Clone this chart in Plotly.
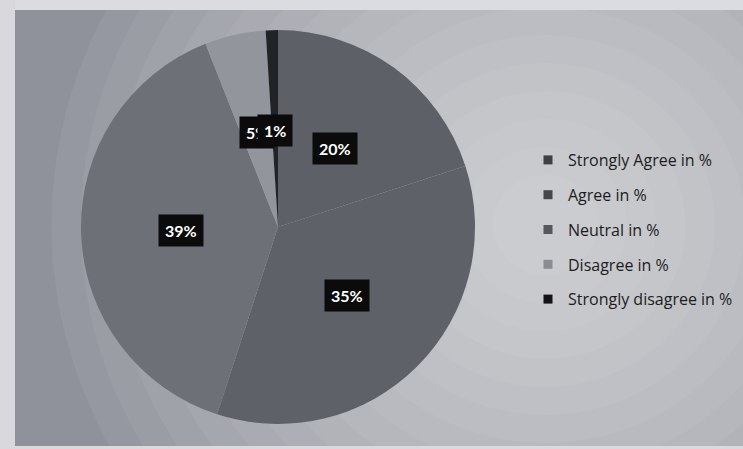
import math
import plotly.graph_objects as go

# ---- data ----
categories = ["Strongly Agree in %", "Agree in %", "Neutral in %", "Disagree in %", "Strongly disagree in %"]
values = [20, 35, 39, 5, 1]
label_texts = ["20%", "35%", "39%", "5%", "1%"]
slice_colors = ["#5e6068", "#5f6169", "#6e7078", "#93959c", "#222327"]
legend_colors = ["#3f4045", "#45464b", "#55575c", "#8a8c92", "#141416"]

W, H = 743, 449
px0, px1 = 80, 476
py0, py1 = 30, 424

fig = go.Figure()

fig.add_trace(go.Pie(
    labels=categories, values=values, sort=False, direction="clockwise", rotation=0,
    marker=dict(colors=slice_colors, line=dict(width=0)),
    textinfo="none", hoverinfo="label+percent", showlegend=False,
    domain=dict(x=[px0 / W, px1 / W], y=[1 - py1 / H, 1 - py0 / H]),
))

# legend entries (one group each so spacing can be controlled)
for cat, col in zip(categories, legend_colors):
    fig.add_trace(go.Scatter(
        x=[None], y=[None], mode="markers", name=cat, legendgroup=cat,
        marker=dict(symbol="square", size=9, color=col),
    ))

# labels on black boxes, placed on slice bisectors at half radius
cx = (px0 + px1) / 2
cy = (py0 + py1) / 2
R = (px1 - px0) / 2
total = sum(values)
cum = 0
annotations = []
for v, t in zip(values, label_texts):
    mid = (cum + v / 2) / total * 2 * math.pi
    cum += v
    x = cx + 0.49 * R * math.sin(mid)
    y = cy - 0.49 * R * math.cos(mid)
    annotations.append(dict(
        x=x / W, y=1 - y / H, xref="paper", yref="paper", showarrow=False,
        xanchor="center", yanchor="middle",
        text="<b>" + t + "</b>", font=dict(family="Lato", size=16, color="white"),
        bgcolor="#0b0b0c", borderpad=6,
    ))

# photographed backdrop: base sheet plus a soft lighter glow right of the pie
shapes = [dict(type="rect", xref="paper", yref="paper", x0=15 / W, x1=1, y0=3 / H, y1=1 - 10 / H,
               fillcolor="#8f929b", line=dict(width=0), layer="below")]
gx, gy = 545, 225
for i in range(16):
    r = 470 - i * 28
    shapes.append(dict(type="circle", xref="paper", yref="paper",
                       x0=(gx - r * 1.05) / W, x1=(gx + r * 1.05) / W,
                       y0=1 - (gy + r) / H, y1=1 - (gy - r) / H,
                       fillcolor="#f3f2f6", opacity=0.065, line=dict(width=0), layer="below"))
shapes.append(dict(type="rect", xref="paper", yref="paper", x0=15 / W, x1=1.2, y0=-0.2, y1=3 / H,
                   fillcolor="#d9d9de", line=dict(width=0), layer="below"))
shapes.append(dict(type="rect", xref="paper", yref="paper", x0=15 / W, x1=1.2, y0=1 - 10 / H, y1=1.2,
                   fillcolor="#dcdce0", line=dict(width=0), layer="below"))
shapes.append(dict(type="rect", xref="paper", yref="paper", x0=-0.2, x1=15 / W, y0=-0.2, y1=1.2,
                   fillcolor="#d8d8dd", line=dict(width=0), layer="below"))

fig.update_layout(
    width=W, height=H, margin=dict(l=0, r=0, t=0, b=0),
    paper_bgcolor="#d8d8dd", plot_bgcolor="rgba(0,0,0,0)",
    xaxis=dict(visible=False), yaxis=dict(visible=False),
    annotations=annotations, shapes=shapes,
    legend=dict(x=528 / W, y=1 - 143 / H, xanchor="left", yanchor="top",
                bgcolor="rgba(0,0,0,0)", tracegroupgap=11, itemclick=False,
                font=dict(family="Open Sans", size=16, color="#1c1c1e")),
)

fig.write_html("out.html", config={"displayModeBar": False},
               post_script="document.body.style.margin='0';")
